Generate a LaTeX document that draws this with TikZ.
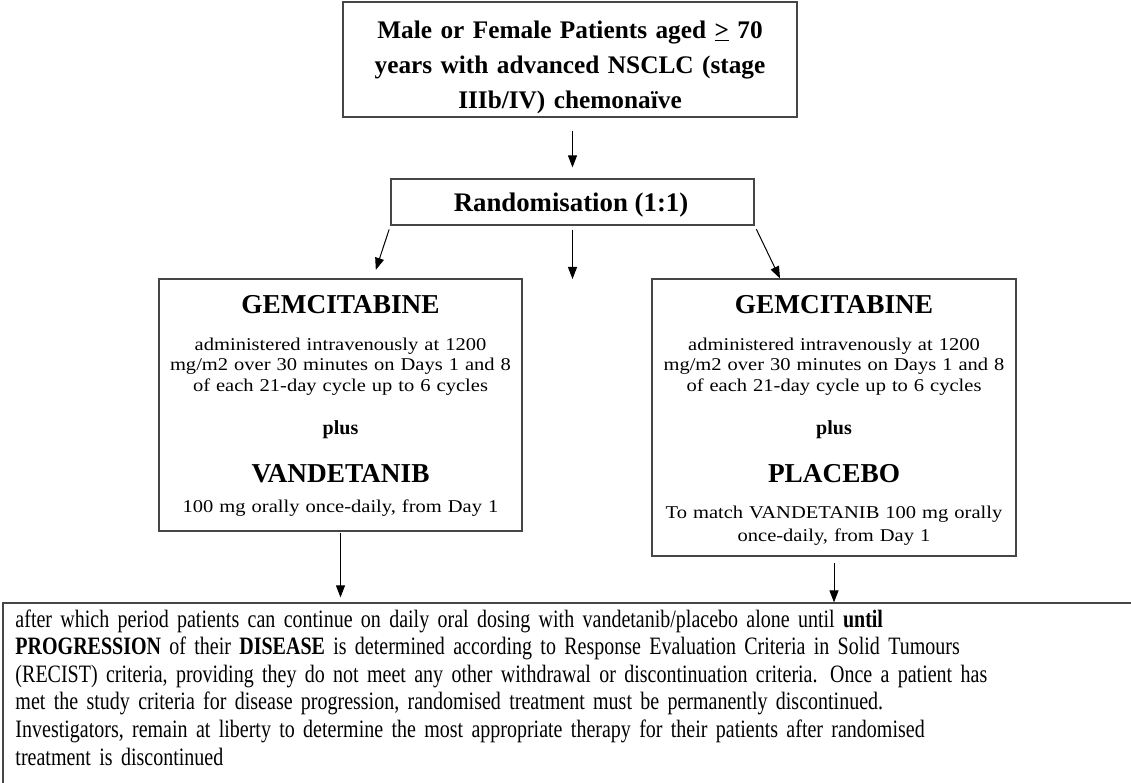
\documentclass[tikz,border=0pt]{standalone}
\usepackage{fontspec}
\setmainfont{Liberation Serif}
\newfontfamily\widefont[FakeStretch=1.14]{Liberation Serif}
\newfontfamily\narrowfont[FakeStretch=0.80, WordSpace=0.8]{Liberation Serif}
\usepackage{tikz}
\usetikzlibrary{arrows.meta}
\usetikzlibrary{positioning}

\definecolor{boxgray}{RGB}{70,70,70}

\tikzset{
  box/.style={draw=boxgray, line width=1.2pt, inner sep=0pt},
  head/.style={font=\fontsize{27.3}{35}\selectfont\bfseries, inner sep=0pt, anchor=base},
  title/.style={head, font=\fontsize{25.3}{35}\selectfont\bfseries, text width=454pt, align=center},
  plustext/.style={font=\fontsize{20}{24}\selectfont\bfseries, inner sep=0pt, anchor=base},
  dose/.style={font=\widefont\fontsize{18}{20.5}\selectfont, text width=360pt, align=center, inner sep=0pt, anchor=base},
  notetext/.style={font=\narrowfont\fontsize{25}{27.6}\selectfont, text width=1100pt, align=left, inner sep=0pt, anchor=base west},
}

\begin{document}
\begin{tikzpicture}[x=1pt, y=-1pt, >={Triangle[length=12pt,width=9pt]}, line width=1pt]
  \useasboundingbox (0,0) rectangle (1131,783);

  % boxes
  \node[box, minimum width=454pt, minimum height=115pt] (elig) at (570,59.5) {};
  \node[box, minimum width=363pt, minimum height=46pt] (rand) at (572.5,202) {};
  \node[box, minimum width=363pt, minimum height=252pt] (lbox) at (340.5,405) {};
  \node[box, minimum width=364pt, minimum height=277pt] (rbox) at (834,417.5) {};
  \node[box, minimum width=1129pt, minimum height=182pt] (note) at (567.5,694) {};

  % texts
  \node[title] (eligtext) at (570,39) {Male or Female Patients aged \underline{>} 70\\
    years with advanced NSCLC (stage\\ IIIb/IV) chemonaïve};
  \node[head, font=\fontsize{26.8}{35}\selectfont\bfseries] (randtext) at (571,212) {Randomisation (1:1)};

  \node[head] (lgem) at (340.5,313) {GEMCITABINE};
  \node[dose] (ldose) at (340.5,350) {administered intravenously at 1200\\
    mg/m2 over 30 minutes on Days 1 and 8\\ of each 21-day cycle up to 6 cycles};
  \node[plustext] (lplus) at (340.5,434.5) {plus};
  \node[head] (lvan) at (340.5,482) {VANDETANIB};
  \node[dose] (lvdose) at (340.5,512) {100 mg orally once-daily, from Day 1};

  \node[head] (rgem) at (834,313) {GEMCITABINE};
  \node[dose] (rdose) at (834,350) {administered intravenously at 1200\\
    mg/m2 over 30 minutes on Days 1 and 8\\ of each 21-day cycle up to 6 cycles};
  \node[plustext] (rplus) at (834,434.5) {plus};
  \node[head] (rpla) at (834,482) {PLACEBO};
  \node[dose] (rpdose) at (834,518) {To match VANDETANIB 100 mg orally\\[2.5pt]
    once-daily, from Day 1};

  \node[notetext] (notebody) at (15,627) {after which period patients can continue on daily oral dosing with vandetanib/placebo alone until \textbf{until}\\
    \textbf{PROGRESSION} of their \textbf{DISEASE} is determined according to Response Evaluation Criteria in Solid Tumours\\
    (RECIST) criteria, providing they do not meet any other withdrawal or discontinuation criteria. Once a patient has\\
    met the study criteria for disease progression, randomised treatment must be permanently discontinued.\\
    Investigators, remain at liberty to determine the most appropriate therapy for their patients after randomised\\
    treatment is discontinued};

  % arrows
  \coordinate (gap) at (572.5,279);
  \draw[->, shorten <=13pt, shorten >=11pt] (elig.south -| rand.north) -- (rand.north);
  \draw[->, shorten <=4pt, shorten >=9pt] (rand.south west) -- ([xshift=32.5pt]lbox.north);
  \draw[->, shorten <=4pt] (rand.south) -- (gap);
  \draw[->, shorten <=4pt] (rand.south east) -- ([xshift=-54pt]rbox.north);
  \draw[->, shorten <=1pt, shorten >=5pt] (lbox.south) -- (lbox.south |- note.north);
  \draw[->, shorten <=6pt] (rbox.south) -- (rbox.south |- note.north);
\end{tikzpicture}
\end{document}
